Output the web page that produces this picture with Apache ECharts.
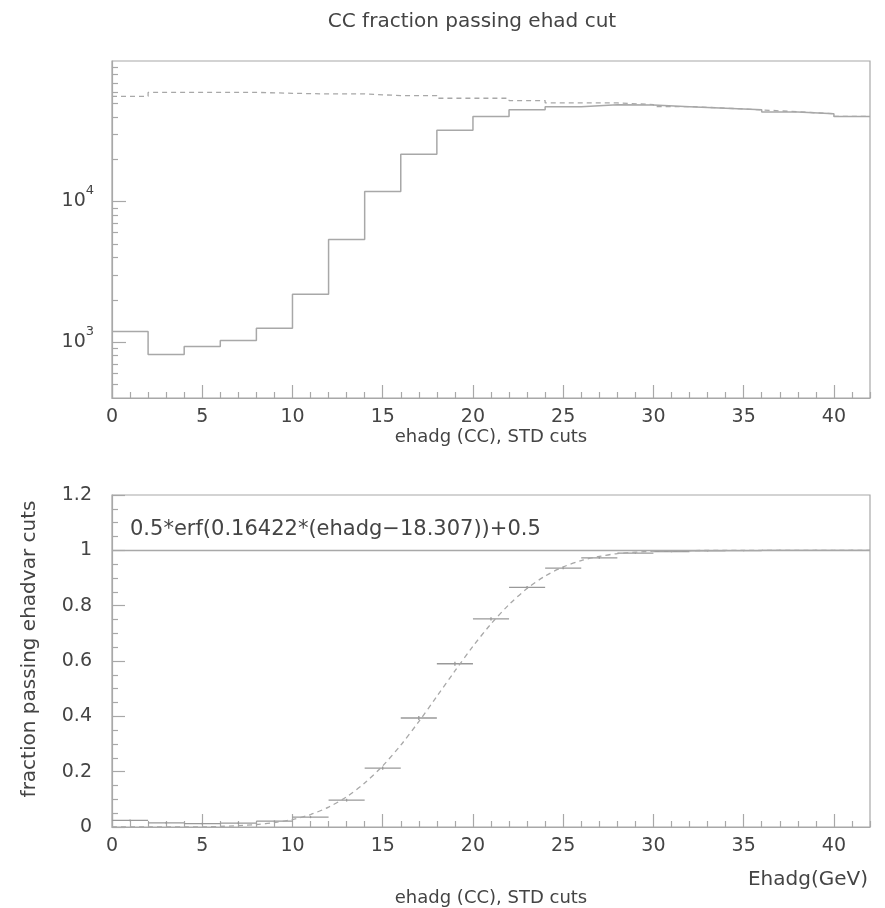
<!DOCTYPE html>
<html>
<head>
<meta charset="utf-8">
<script src="https://cdn.jsdelivr.net/npm/echarts@6/dist/echarts.min.js"></script>
<style>html,body{margin:0;padding:0;background:#fff;}#c{width:885px;height:908px;}</style>
</head>
<body>
<div id="c"></div>
<script>
// ---- data ----
const binEdges = [0,2,4,6,8,10,12,14,16,18,20,22,24,26,28,30,32,34,36,38,40,42];
const passCounts = [1190,815,930,1025,1255,2190,5360,11800,21700,32100,40300,44900,47300,48800,48600,47300,46100,44900,43400,42100,40300];
const allCounts  = [56100,59800,59800,59800,58900,58300,58300,56700,56700,54300,54300,52300,50300,50300,49000,47400,46200,44900,43500,42100,40300];
const effCenters = [1,3,5,7,9,11,13,15,17,19,21,23,25,27,29,31,33,35,37,39,41];
const effValues  = [0.024,0.015,0.012,0.014,0.021,0.036,0.097,0.213,0.394,0.590,0.752,0.866,0.936,0.973,0.990,0.995,0.998,0.999,1.000,1.000,1.000];
const effErrors  = [0.003,0.003,0.003,0.003,0.003,0.004,0.005,0.006,0.007,0.007,0.006,0.005,0.004,0.003,0.002,0.002,0.002,0.002,0.002,0.002,0.002];
const fitX = [0,2,4,6,8,9,10,11,12,13,14,15,16,17,18,19,20,21,22,23,24,25,26,27,28,30,32,35,42];
const fitY = [0.000,0.000,0.000,0.002,0.009,0.016,0.027,0.045,0.072,0.109,0.159,0.221,0.296,0.381,0.472,0.564,0.653,0.734,0.804,0.862,0.907,0.940,0.963,0.978,0.988,0.997,0.999,1.000,1.000];
const xMajorTicks = [0,5,10,15,20,25,30,35,40];
const logMajorTicks = [1000,10000];
const logMinorTicks = [500,600,700,800,900,2000,3000,4000,5000,6000,7000,8000,9000,20000,30000,40000,50000,60000,70000,80000,90000];
const effMajorTicks = [0,0.2,0.4,0.6,0.8,1,1.2];
const titleText = 'CC fraction passing ehad cut';
const xTitle = 'ehadg (CC), STD cuts';
const yTitle2 = 'fraction passing ehadvar cuts';
const fitText = '0.5*erf(0.16422*(ehadg\u221218.307))+0.5';
const unitText = 'Ehadg(GeV)';

// ---- build ----
const FONT = 'DejaVu Sans';
const TXT = '#444';
const LN = '#a8a8a8';
const xMinorTicks = [];
for (let i = 0; i <= 42; i++) if (i % 5 !== 0) xMinorTicks.push(i);
const effMinorTicks = [];
for (let i = 0; i <= 24; i++) if (i % 4 !== 0) effMinorTicks.push(+(i * 0.05).toFixed(2));

function histData(counts) {
  const d = counts.map((v, i) => [binEdges[i], Math.log10(v)]);
  d.push([binEdges[binEdges.length - 1], Math.log10(counts[counts.length - 1])]);
  return d;
}

function xAxes(gridIndex, withLabels, name, nameGap) {
  return [
    {
      type: 'value', gridIndex, min: 0, max: 42, position: 'bottom',
      axisLine: { show: true, onZero: false, lineStyle: { color: LN, width: 1.2 } },
      axisTick: { show: true, inside: true, length: 13, customValues: xMajorTicks, lineStyle: { color: LN, width: 1.2 } },
      axisLabel: { show: withLabels, customValues: xMajorTicks, margin: 10, color: TXT, fontFamily: FONT, fontSize: 19 },
      splitLine: { show: false },
      name, nameLocation: 'middle', nameGap,
      nameTextStyle: { color: TXT, fontFamily: FONT, fontSize: 18 }
    },
    {
      type: 'value', gridIndex, min: 0, max: 42, position: 'bottom',
      axisLine: { show: false, onZero: false },
      axisTick: { show: true, inside: true, length: 6, customValues: xMinorTicks, lineStyle: { color: LN, width: 1.2 } },
      axisLabel: { show: false }, splitLine: { show: false }
    }
  ];
}

const option = {
  animation: false,
  backgroundColor: '#fff',
  textStyle: { fontFamily: FONT },
  grid: [
    { left: 112, right: 15, top: 61, height: 337, show: true, borderColor: LN, borderWidth: 1.2, containLabel: false },
    { left: 112, right: 15, top: 495, height: 337, show: true, borderColor: LN, borderWidth: 1.2, containLabel: false }
  ],
  xAxis: [
    ...xAxes(0, true, xTitle, 29),
    ...xAxes(1, true, xTitle, 62)
  ],
  yAxis: [
    {
      type: 'value', gridIndex: 0, min: Math.log10(400), max: 5, position: 'left',
      axisLine: { show: true, onZero: false, lineStyle: { color: LN, width: 1.2 } },
      axisTick: { show: true, inside: true, length: 14, customValues: logMajorTicks.map(Math.log10), lineStyle: { color: LN, width: 1.2 } },
      axisLabel: {
        customValues: logMajorTicks.map(Math.log10), margin: 18, color: TXT, fontFamily: FONT, fontSize: 19,
        formatter: v => '{b|10}{s|' + Math.round(v) + '}',
        rich: {
          b: { fontSize: 19, color: TXT, fontFamily: FONT, lineHeight: 34, verticalAlign: 'middle' },
          s: { fontSize: 13, color: TXT, fontFamily: FONT, lineHeight: 34, verticalAlign: 'top' }
        }
      },
      splitLine: { show: false }
    },
    {
      type: 'value', gridIndex: 0, min: Math.log10(400), max: 5, position: 'left',
      axisLine: { show: false, onZero: false },
      axisTick: { show: true, inside: true, length: 6, customValues: logMinorTicks.map(Math.log10), lineStyle: { color: LN, width: 1.2 } },
      axisLabel: { show: false }, splitLine: { show: false }
    },
    {
      type: 'value', gridIndex: 1, min: 0, max: 1.2, interval: 0.2, position: 'left',
      axisLine: { show: true, onZero: false, lineStyle: { color: LN, width: 1.2 } },
      axisTick: { show: true, inside: true, length: 13, customValues: effMajorTicks, lineStyle: { color: LN, width: 1.2 } },
      axisLabel: { customValues: effMajorTicks, margin: 20, color: TXT, fontFamily: FONT, fontSize: 19 },
      splitLine: { show: false },
      name: yTitle2, nameLocation: 'middle', nameGap: 72,
      nameTextStyle: { color: TXT, fontFamily: FONT, fontSize: 20, padding: [0, 0, 0, 24] }
    },
    {
      type: 'value', gridIndex: 1, min: 0, max: 1.2, position: 'left',
      axisLine: { show: false, onZero: false },
      axisTick: { show: true, inside: true, length: 6, customValues: effMinorTicks, lineStyle: { color: LN, width: 1.2 } },
      axisLabel: { show: false }, splitLine: { show: false }
    }
  ],
  series: [
    {
      type: 'line', xAxisIndex: 0, yAxisIndex: 0, step: 'end', showSymbol: false, symbol: 'none',
      data: histData(allCounts),
      lineStyle: { color: LN, width: 1.3, type: [5, 4] }, silent: true
    },
    {
      type: 'line', xAxisIndex: 0, yAxisIndex: 0, step: 'end', showSymbol: false, symbol: 'none',
      data: histData(passCounts),
      lineStyle: { color: LN, width: 1.5 }, silent: true
    },
    {
      type: 'line', xAxisIndex: 2, yAxisIndex: 2, smooth: 0.3, showSymbol: false, symbol: 'none',
      data: fitX.map((x, i) => [x, fitY[i]]),
      lineStyle: { color: LN, width: 1.3, type: [5, 4] }, silent: true,
      markLine: {
        silent: true, symbol: 'none', label: { show: false },
        lineStyle: { color: LN, width: 1.3, type: 'solid' },
        data: [{ yAxis: 1 }]
      }
    },
    {
      type: 'custom', xAxisIndex: 2, yAxisIndex: 2, silent: true,
      data: effCenters.map((c, i) => [c, effValues[i], effErrors[i]]),
      renderItem: function (params, api) {
        const x = api.value(0), y = api.value(1), e = api.value(2);
        const pL = api.coord([x - 1, y]);
        const pR = api.coord([x + 1, y]);
        const pT = api.coord([x, Math.min(y + e, 1.2)]);
        const pB = api.coord([x, y - e]);
        const st = { stroke: '#999', lineWidth: 1.3 };
        return {
          type: 'group',
          children: [
            { type: 'line', shape: { x1: pL[0], y1: pL[1], x2: pR[0], y2: pR[1] }, style: st },
            { type: 'line', shape: { x1: pT[0], y1: pT[1], x2: pB[0], y2: pB[1] }, style: st }
          ]
        };
      }
    }
  ],
  graphic: [
    { type: 'text', x: 472, y: 22, style: { text: titleText, align: 'center', verticalAlign: 'middle', fill: TXT, font: '20px "DejaVu Sans"' } },
    { type: 'text', x: 130, y: 530, style: { text: fitText, align: 'left', verticalAlign: 'middle', fill: TXT, font: '21px "DejaVu Sans"' } },
    { type: 'text', x: 868, y: 880, style: { text: unitText, align: 'right', verticalAlign: 'middle', fill: TXT, font: '20px "DejaVu Sans"' } }
  ]
};

const chart = echarts.init(document.getElementById('c'), null, { renderer: 'canvas' });
chart.setOption(option);
</script>
</body>
</html>
